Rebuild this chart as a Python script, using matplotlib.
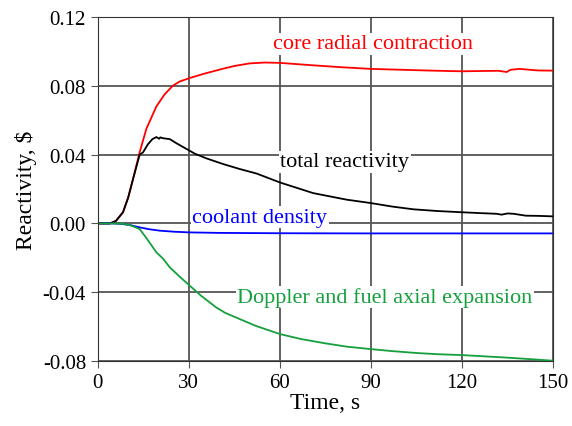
import numpy as np
import matplotlib
matplotlib.use('Agg')
import matplotlib.pyplot as plt

plt.rcParams['font.family'] = ['Liberation Serif', 'DejaVu Serif']

# time, s and reactivity, $
t_red = [0, 4, 6, 8.3, 10, 11.6, 13.8, 16, 19.3, 22, 24.7, 27, 30.3, 35, 41, 45, 50, 55, 60, 70, 80, 90, 100, 110, 120, 127, 132, 134.7, 136, 139, 145, 150]
r_red = [0, 0, 0.0015, 0.0065, 0.015, 0.0258, 0.0415, 0.055, 0.068, 0.075, 0.080, 0.0825, 0.0845, 0.087, 0.0898, 0.0915, 0.0930, 0.0935, 0.0933, 0.092, 0.0908, 0.0898, 0.0893, 0.0888, 0.0884, 0.0886, 0.0887, 0.0880, 0.0893, 0.0898, 0.0889, 0.0888]

t_tot = [0, 4, 6, 8.3, 10, 11.6, 13.8, 14.9, 16.5, 18, 19.3, 20.2, 20.6, 21.5, 23.7, 26, 29.2, 32, 35.8, 41.3, 46.8, 52.3, 60, 71, 82, 89.7, 97, 104, 112, 119.8, 126, 131.4, 133, 135, 137, 141, 145, 150]
r_tot = [0, 0, 0.0015, 0.0065, 0.015, 0.0258, 0.0400, 0.0413, 0.046, 0.049, 0.0502, 0.0492, 0.0500, 0.0495, 0.049, 0.0465, 0.0433, 0.0405, 0.0378, 0.0345, 0.0316, 0.0290, 0.0238, 0.0176, 0.0138, 0.0119, 0.0098, 0.0082, 0.0072, 0.0065, 0.0060, 0.0056, 0.0051, 0.0058, 0.0056, 0.0045, 0.0044, 0.0041]

t_blue = [0, 5, 8, 11, 13.8, 17, 20.4, 25, 30, 40, 60, 90, 120, 150]
r_blue = [0, 0, -0.0003, -0.0011, -0.0023, -0.0034, -0.0042, -0.0048, -0.0052, -0.0055, -0.0057, -0.0058, -0.0058, -0.0058]

t_green = [0, 5, 8.3, 11, 13.8, 16, 19.3, 21.5, 23.7, 27, 30.3, 34, 39, 42, 46.8, 52, 60, 67, 75, 82, 89.7, 97, 105, 112, 119.9, 127, 135, 142, 150]
r_green = [0, 0, -0.0002, -0.0012, -0.0033, -0.0085, -0.0168, -0.0205, -0.0255, -0.0310, -0.0362, -0.0420, -0.0488, -0.0520, -0.0556, -0.0595, -0.0643, -0.0672, -0.0697, -0.0716, -0.0730, -0.0742, -0.0753, -0.0760, -0.0765, -0.0772, -0.0780, -0.0788, -0.0798]

fig = plt.figure(figsize=(5.72, 4.27), dpi=100)
ax = fig.add_axes([0.171, 0.152, 0.796, 0.806])

ax.grid(True, color='#555555', linewidth=1.3)
ax.set_axisbelow(True)

ax.plot(t_red, r_red, color='#ff0000', linewidth=1.3)
ax.plot(t_tot, r_tot, color='black', linewidth=1.3)
ax.plot(t_blue, r_blue, color='#0000ff', linewidth=1.3)
ax.plot(t_green, r_green, color='#14a03c', linewidth=1.3)

box = dict(facecolor='white', edgecolor='none', pad=1)
ax.text(90.7, 0.1043, 'core radial contraction', color='#ff0000', fontsize=16, ha='center', va='center', bbox=box)
ax.text(81.4, 0.0357, 'total reactivity', color='black', fontsize=16, ha='center', va='center', bbox=box)
ax.text(53.4, 0.0037, 'coolant density', color='#0000ff', fontsize=16, ha='center', va='center', bbox=box)
ax.text(94.6, -0.0428, 'Doppler and fuel axial expansion', color='#14a03c', fontsize=16, ha='center', va='center', bbox=box)

ax.set_xlim(0, 150)
ax.set_ylim(-0.08, 0.12)
ax.set_xticks([0, 30, 60, 90, 120, 150])
ax.set_yticks([-0.08, -0.04, 0.0, 0.04, 0.08, 0.12])
ax.set_yticklabels(['-0.08', '-0.04', '0.00', '0.04', '0.08', '0.12'])
ax.tick_params(labelsize=15, direction='out', length=5, color='#555555')
ax.set_xlabel('Time, s', fontsize=17, labelpad=0)
ax.set_ylabel('Reactivity, $', fontsize=17, labelpad=4)
for s in ax.spines.values():
    s.set_color('#333333')

fig.savefig('out.png', dpi=100)
